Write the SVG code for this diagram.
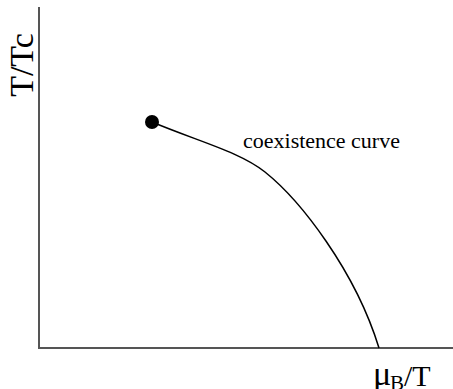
<svg xmlns="http://www.w3.org/2000/svg" width="453" height="389" viewBox="0 0 453 389">
<style>
.axis{stroke:#555;stroke-width:2;fill:none}
.curve{stroke:#000;stroke-width:1.5;fill:none}
.lbl{font-family:"Liberation Serif","Times New Roman",serif;fill:#000}
</style>
<rect width="453" height="389" fill="#fff"/>
<g id="axes">
<line class="axis" x1="39" y1="7" x2="39" y2="348"/>
<line class="axis" x1="38" y1="348" x2="453" y2="348"/>
</g>
<g id="connectors">
<path class="curve" d="M152,122 C200,142 240,152 265,172 C300,200 355,270 379,348"/>
</g>
<g id="critical-point">
<circle cx="152" cy="122" r="7" fill="#000"/>
</g>
<g id="label-curve">
<text class="lbl" x="243" y="148" font-size="22">coexistence curve</text>
</g>
<g id="label-y">
<text class="lbl" transform="translate(33,65) rotate(-90)" text-anchor="middle" font-size="34">T/Tc</text>
</g>
<g id="label-x">
<text class="lbl" y="385" font-size="30"><tspan x="373" font-size="34">μ</tspan><tspan x="390" y="390" font-size="21">B</tspan><tspan x="404" y="386">/T</tspan></text>
</g>
</svg>
